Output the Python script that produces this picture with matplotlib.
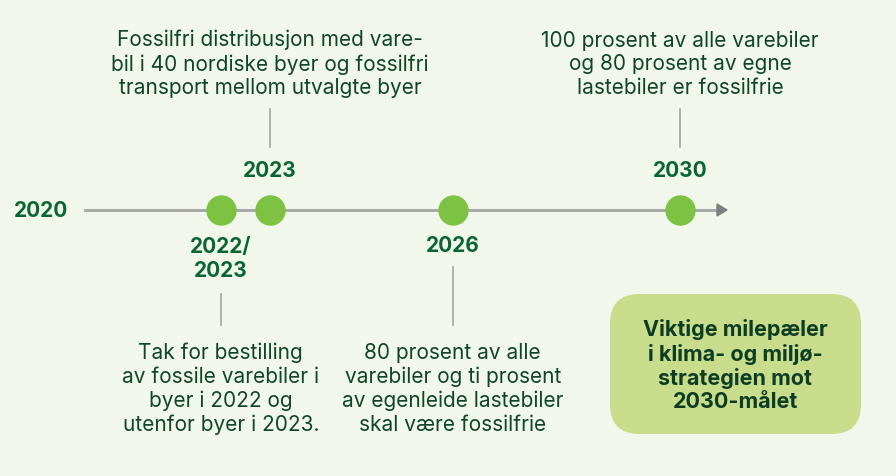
import numpy as np
import matplotlib.pyplot as plt
from matplotlib.patches import FancyBboxPatch

# Milepæler på tidslinjen
aar_etiketter = ["2022/\n2023", "2023", "2026", "2030"]
aar_posisjon = [2022.16, 2023.0, 2026.12, 2030.0]
side = ["under", "over", "under", "over"]
beskrivelser = [
    "Tak for bestilling\nav fossile varebiler i\nbyer i 2022 og\nutenfor byer i 2023.",
    "Fossilfri distribusjon med vare-\nbil i 40 nordiske byer og fossilfri\ntransport mellom utvalgte byer",
    "80 prosent av alle\nvarebiler og ti prosent\nav egenleide lastebiler\nskal være fossilfrie",
    "100 prosent av alle varebiler\nog 80 prosent av egne\nlastebiler er fossilfrie",
]
start_aar = "2020"
boks_tekst = "Viktige milepæler\ni klima- og miljø-\nstrategien mot\n2030-målet"

BG = "#f1f7ea"
MORK = "#0a6534"
TEKST = "#10452a"
PRIKK = "#7dc242"

plt.rcParams['font.family'] = ['Inter', 'DejaVu Sans']

fig = plt.figure(figsize=(8.96, 4.77), dpi=100, facecolor=BG)
ax = fig.add_axes([0, 0, 1, 1])
ax.set_facecolor(BG)
# x i år, y i piksler ovenfra
px_per_aar = 58.57
x0 = 2023.0 - 270 / px_per_aar
ax.set_xlim(x0, x0 + 896 / px_per_aar)
ax.set_ylim(477, 0)
ax.axis("off")

def px2aar(px):
    return x0 + px / px_per_aar

FS_AAR = 15
FS_TEKST = 15
LS = 1.22

y_linje = 211
ax.plot([px2aar(85), px2aar(718)], [y_linje, y_linje], color="#a5a5a5", lw=2, zorder=1)
ax.fill([px2aar(717), px2aar(727), px2aar(717)], [205, 211, 217], color="#7f7f7f", zorder=1)
ax.text(px2aar(41), y_linje, start_aar, ha="center", va="center", fontsize=FS_AAR,
        fontweight="bold", color=MORK)

for lab, x, s, tekst in zip(aar_etiketter, aar_posisjon, side, beskrivelser):
    ax.scatter([x], [y_linje], s=480, color=PRIKK, zorder=3, linewidths=0)
    if s == "over":
        ax.text(x, 171, lab, ha="center", va="center", fontsize=FS_AAR, fontweight="bold", color=MORK)
        ax.plot([x, x], [110, 148], color="#a5a5a5", lw=1.2)
        ax.text(x, 64, tekst, ha="center", va="center", fontsize=FS_TEKST, color=TEKST,
                linespacing=LS)
    else:
        if "\n" in lab:
            ax.text(x, 259, lab, ha="center", va="center", fontsize=FS_AAR, fontweight="bold",
                    color=MORK, linespacing=1.2)
            ax.plot([x, x], [295, 326], color="#a5a5a5", lw=1.2)
        else:
            ax.text(x, 246, lab, ha="center", va="center", fontsize=FS_AAR, fontweight="bold",
                    color=MORK)
            ax.plot([x, x], [268, 326], color="#a5a5a5", lw=1.2)
        ax.text(x, 389, tekst, ha="center", va="center", fontsize=FS_TEKST, color=TEKST,
                linespacing=LS)

boks = FancyBboxPatch((px2aar(610), 295), (861 - 610) / px_per_aar, 140,
                      boxstyle="round,pad=0,rounding_size=0.5", mutation_aspect=60,
                      facecolor="#c9dc8c", edgecolor="none", zorder=1)
ax.add_patch(boks)
ax.text(px2aar(735.5), 366, boks_tekst, ha="center", va="center", fontsize=15.5,
        fontweight="bold", color="#0b3d23", linespacing=1.2)

fig.savefig("out.png", dpi=100, facecolor=BG)
